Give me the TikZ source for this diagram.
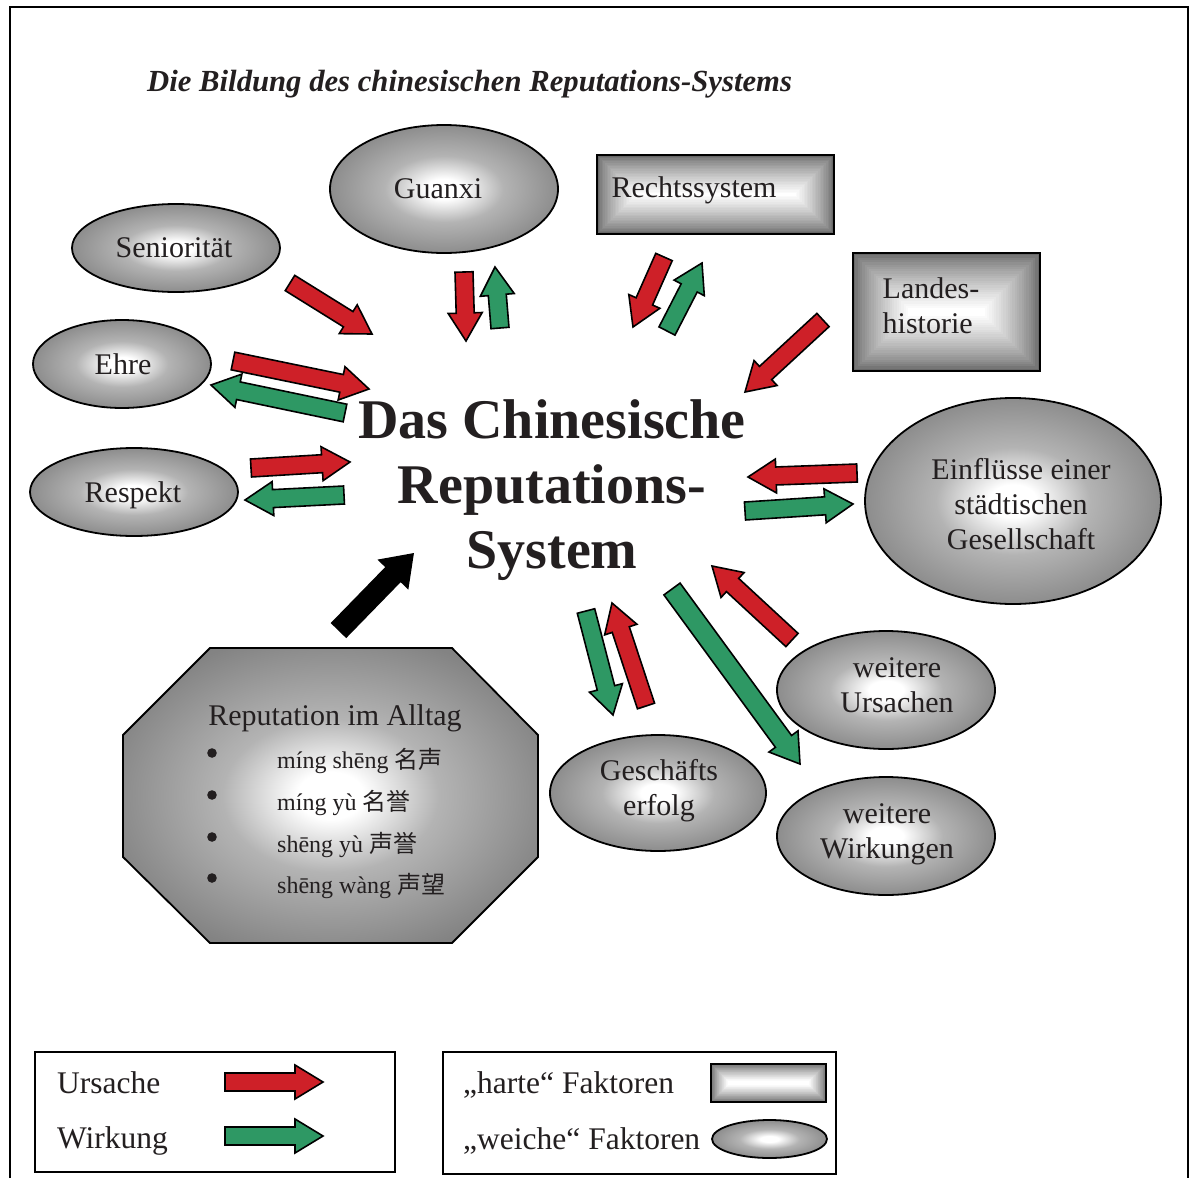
\documentclass[tikz,border=0pt]{standalone}
\usepackage{fontspec}
\setmainfont{Liberation Serif}
\newfontfamily\cjk{Noto Sans CJK SC}
\usetikzlibrary{calc,shapes.geometric}

\definecolor{shadegray}{RGB}{104,104,104}
\colorlet{shadeA}{shadegray!50!white}
\colorlet{shadeB}{shadegray!82!white}
\definecolor{causered}{RGB}{206,32,40}
\definecolor{effectgreen}{RGB}{46,152,100}
\definecolor{ink}{RGB}{35,31,32}

% soft factors: light centre fading to grey at the rim
\pgfdeclareradialshading{softball}{\pgfpoint{0bp}{0bp}}{%
  color(0bp)=(white); color(4bp)=(white); color(13bp)=(shadeA); color(28bp)=(shadeB);
  color(46bp)=(shadegray); color(75bp)=(shadegray)}

\tikzset{
  txt/.style={text=ink, font=\fontsize{30}{35}\selectfont, inner sep=0pt, align=center},
  keytxt/.style={txt, font=\fontsize{31.5}{35}\selectfont},
  soft/.style={ellipse, draw=black, line width=1.8pt, shade, shading=softball, inner sep=0pt},
  % hard factors: nested rectangles give a box-shaped gradient
  hard/.style={rectangle, draw=black, line width=1.8pt, inner sep=0pt,
    path picture={
      \foreach \i in {0,...,24}{
        \pgfmathsetmacro\mixval{100*(\i/24)^0.75}
        \fill[white!\mixval!shadegray]
          ($(path picture bounding box.south west)+({\i*#1pt},{\i*#1pt})$) rectangle
          ($(path picture bounding box.north east)-({\i*#1pt},{\i*#1pt})$);
      }}},
  arrowline/.style={draw=black, line width=1.6pt, line join=miter},
  legendbox/.style={rectangle, draw=black, line width=1.4pt, inner sep=0pt},
}

% block arrow: colour, tail, tip, half shaft width, half head width
\newcommand\blockarrow[5]{%
  \coordinate (neck) at ($(#3)!28pt!(#2)$);
  \draw[arrowline, fill=#1]
    ($(#2)!#4!90:(#3)$) -- ($(neck)!#4!90:(#3)$) -- ($(neck)!#5!90:(#3)$) --
    (#3) -- ($(neck)!#5!-90:(#3)$) -- ($(neck)!#4!-90:(#3)$) --
    ($(#2)!#4!-90:(#3)$) -- cycle;}

\begin{document}
\begin{tikzpicture}[x=1pt,y=-1pt]
\useasboundingbox (0,0) rectangle (1194,1178);

% outer frame (open at the bottom)
\draw[line width=2.5pt] (10,1178) -- (10,7) -- (1188,7) -- (1188,1178);

% title
\node[txt, anchor=base west, font=\fontsize{30.7}{35}\selectfont\bfseries\itshape] (title) at (147,91)
  {Die Bildung des chinesischen Reputations-Systems};

% centre
\node[txt, font=\fontsize{56}{65}\selectfont\bfseries] (center) at (552,490)
  {Das Chinesische\\Reputations-\\System};

% soft factors
\node[soft, minimum width=228pt, minimum height=128pt] (guanxi) at (444,189) {};
\node[txt] (guanxiT) at (438,189) {Guanxi};
\node[soft, minimum width=208pt, minimum height=88pt] (senior) at (176,248) {};
\node[txt] (seniorT) at (174,248) {Seniorität};
\node[soft, minimum width=178pt, minimum height=88pt] (ehre) at (122,364) {};
\node[txt] (ehreT) at (123,364) {Ehre};
\node[soft, minimum width=208pt, minimum height=88pt] (respekt) at (134,492) {};
\node[txt] (respektT) at (133,495) {Respekt};
\node[soft, minimum width=296pt, minimum height=206pt] (einfl) at (1013,501) {};
\node[txt] (einflT) at (1021,504) {Einflüsse einer\\städtischen\\Gesellschaft};
\node[soft, minimum width=218pt, minimum height=118pt] (ursachen) at (886,690) {};
\node[txt] (ursachenT) at (897,685) {weitere\\Ursachen};
\node[soft, minimum width=218pt, minimum height=118pt] (wirkungen) at (886,836) {};
\node[txt] (wirkungenT) at (887,834.5) {weitere\\Wirkungen};
\node[soft, minimum width=216pt, minimum height=116pt] (erfolg) at (658,793) {};
\node[txt] (erfolgT) at (659,790.5) {Geschäfts\\erfolg};

% hard factors
\node[hard=1.6, minimum width=237pt, minimum height=79pt] (recht) at (715.5,194.5) {};
\node[txt] (rechtT) at (694,190) {Rechtssystem};
\node[hard=2.3, minimum width=187pt, minimum height=118pt] (landes) at (946.5,312) {};
\node[txt, align=left] (landesT) at (931,306) {Landes-\\historie};

% everyday reputation (octagon)
\draw[line width=1.8pt, shade, shading=softball]
  (210,648) -- (452,648) -- (538,735) -- (538,857) -- (452,943) -- (210,943) --
  (123,857) -- (123,735) -- cycle;
\node[txt, anchor=base] (alltag) at (335,725) {Reputation im Alltag};
\foreach \y/\word/\hz [count=\k] in {768/míng shēng/名声, 810/míng yù/名誉, 852/shēng yù/声誉, 893/shēng wàng/声望}{
  \fill[ink] (212,\y-15) circle (4.8pt);
  \node[txt, anchor=base west, font=\fontsize{24}{28}\selectfont] (item\k) at (277,\y) {\word\ {\cjk\hz}};
}

% causes (red) and effects (green)
\coordinate (s1) at (290,283);  \coordinate (s2) at (372,334);
\coordinate (g1) at (464,272);  \coordinate (g2) at (466,341);
\coordinate (g3) at (500,328);  \coordinate (g4) at (495,267);
\coordinate (e1) at (233,361);  \coordinate (e2) at (369,389);
\coordinate (e3) at (345,413);  \coordinate (e4) at (211,385);
\coordinate (r1) at (251,468);  \coordinate (r2) at (350,462);
\coordinate (r3) at (344,495);  \coordinate (r4) at (245,500);
\coordinate (k1) at (664,257);  \coordinate (k2) at (633,327);
\coordinate (k3) at (667,331);  \coordinate (k4) at (702,263);
\coordinate (l1) at (823,320);  \coordinate (l2) at (745,392);
\coordinate (f1) at (857,473);  \coordinate (f2) at (748,477);
\coordinate (f3) at (745,511);  \coordinate (f4) at (853,504);
\coordinate (b1) at (586,611);  \coordinate (b2) at (613,715);
\coordinate (b3) at (646,706);  \coordinate (b4) at (612,603);
\coordinate (w1) at (672,589);  \coordinate (w2) at (800,764);
\coordinate (u1) at (792,640);  \coordinate (u2) at (712,566);
\coordinate (a1) at (339,630);  \coordinate (a2) at (413,554);

\blockarrow{causered}{s1}{s2}{9pt}{17pt}
\blockarrow{causered}{g1}{g2}{9pt}{17pt}
\blockarrow{effectgreen}{g3}{g4}{9pt}{17pt}
\blockarrow{causered}{e1}{e2}{9pt}{17pt}
\blockarrow{effectgreen}{e3}{e4}{9pt}{17pt}
\blockarrow{causered}{r1}{r2}{9pt}{17pt}
\blockarrow{effectgreen}{r3}{r4}{9pt}{17pt}
\blockarrow{causered}{k1}{k2}{9pt}{17pt}
\blockarrow{effectgreen}{k3}{k4}{9pt}{17pt}
\blockarrow{causered}{l1}{l2}{9pt}{17pt}
\blockarrow{causered}{f1}{f2}{9pt}{17pt}
\blockarrow{effectgreen}{f3}{f4}{9pt}{17pt}
\blockarrow{effectgreen}{b1}{b2}{9pt}{17pt}
\blockarrow{causered}{b3}{b4}{9pt}{17pt}
\blockarrow{effectgreen}{w1}{w2}{10pt}{18pt}
\blockarrow{causered}{u1}{u2}{9pt}{17pt}
\blockarrow{black}{a1}{a2}{10pt}{20pt}

% legend
\node[legendbox, minimum width=360pt, minimum height=120pt] (legA) at (215,1112) {};
\node[keytxt, anchor=base west] (ursT) at (57,1093) {Ursache};
\node[keytxt, anchor=base west] (wirT) at (57,1148) {Wirkung};
\coordinate (lr1) at (225,1082); \coordinate (lr2) at (323,1082);
\coordinate (lg1) at (225,1136); \coordinate (lg2) at (323,1136);
\blockarrow{causered}{lr1}{lr2}{9pt}{17pt}
\blockarrow{effectgreen}{lg1}{lg2}{9pt}{17pt}

\node[legendbox, minimum width=393pt, minimum height=122pt] (legB) at (639.5,1113) {};
\node[keytxt, anchor=base west] (hartT) at (463,1093) {„harte“ Faktoren};
\node[keytxt, anchor=base west] (weichT) at (463,1149) {„weiche“ Faktoren};
\node[hard=0.7, minimum width=115pt, minimum height=38pt] (hardkey) at (768.5,1083) {};
\node[soft, minimum width=115pt, minimum height=38pt] (softkey) at (769.5,1139) {};
\end{tikzpicture}
\end{document}
